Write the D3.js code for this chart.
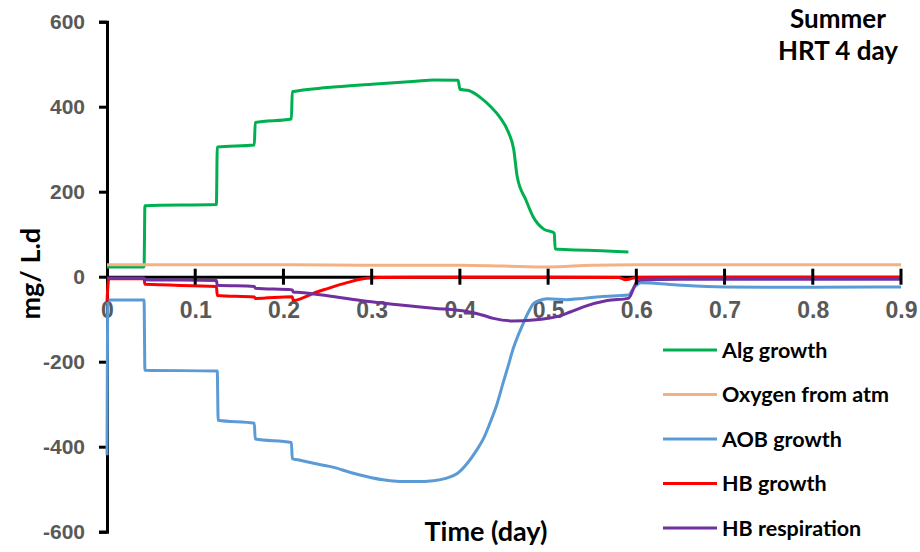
<!DOCTYPE html>
<html>
<head>
<meta charset="utf-8">
<script src="https://cdn.jsdelivr.net/npm/d3@7"></script>
<style>
  body { margin: 0; background: #fff; }
  svg { font-family: Lato, "Open Sans", sans-serif; }
</style>
</head>
<body>
<svg id="chart" width="920" height="552"></svg>
<script>
// series: [time (day), mg/L.d]
const algGrowth = [[0,23],[0.042,23],[0.043,167],[0.124,170],[0.125,305],[0.167,310],[0.168,363],[0.209,371],[0.21,435],
  [0.25,445],[0.3,453],[0.35,460],[0.37,463],[0.398,462],[0.4,441],[0.41,438],[0.423,422],[0.435,400],[0.445,376],
  [0.455,340],[0.461,300],[0.465,235],[0.475,180],[0.483,141],[0.495,112],[0.507,103],[0.508,65],[0.53,63],[0.56,61],[0.591,58]];
const oxygenAtm = [[0,28],[0.1,28],[0.2,28],[0.3,27],[0.4,27],[0.45,25],[0.5,23],[0.55,27],[0.6,28],[0.7,28],[0.9,28]];
const aobGrowth = [[0,-420],[0.001,-55],[0.042,-55],[0.043,-220],[0.125,-222],[0.126,-338],[0.167,-345],[0.168,-382],
  [0.209,-390],[0.21,-428],[0.219,-432],[0.241,-442],[0.256,-448],[0.275,-460],[0.294,-470],[0.313,-478],[0.332,-482],
  [0.35,-482],[0.37,-480],[0.385,-474],[0.397,-463],[0.408,-440],[0.419,-408],[0.427,-380],[0.434,-345],[0.442,-300],
  [0.449,-250],[0.455,-208],[0.46,-172],[0.466,-138],[0.472,-109],[0.478,-82],[0.483,-64],[0.49,-56],[0.499,-52],
  [0.521,-54],[0.54,-51],[0.559,-47],[0.591,-43],[0.598,-24],[0.605,-14],[0.65,-20],[0.7,-24],[0.8,-25],[0.9,-24]];
const hbGrowth = [[0,-60],[0.002,-5],[0.042,-5],[0.043,-18],[0.124,-23],[0.125,-44],[0.167,-48],[0.168,-51],[0.21,-47],
  [0.211,-56],[0.222,-50],[0.234,-39],[0.25,-28],[0.272,-14],[0.29,-5],[0.31,-2],[0.35,-1],[0.4,-1],[0.5,-1],[0.58,-2],
  [0.588,-7],[0.595,-4],[0.6,-2],[0.7,-1],[0.9,-1]];
const hbRespiration = [[0,-3],[0.042,-3],[0.043,-7],[0.124,-9],[0.125,-20],[0.167,-23],[0.168,-27],[0.21,-31],[0.211,-36],
  [0.219,-37],[0.25,-45],[0.294,-58],[0.33,-66],[0.37,-74],[0.408,-82],[0.425,-90],[0.438,-98],[0.46,-104],[0.483,-102],
  [0.5,-98],[0.51,-94],[0.525,-83],[0.54,-71],[0.567,-56],[0.591,-51],[0.6,-14],[0.605,-8],[0.65,-6],[0.9,-6]];

const seriesNames = ['Alg growth', 'Oxygen from atm', 'AOB growth', 'HB growth', 'HB respiration'];
const seriesData = [algGrowth, oxygenAtm, aobGrowth, hbGrowth, hbRespiration];
const seriesColors = ['#00B050', '#F4B183', '#5B9BD5', '#FF0000', '#7030A0'];

const xTicks = [0, 0.1, 0.2, 0.3, 0.4, 0.5, 0.6, 0.7, 0.8, 0.9];
const yTicks = [-600, -400, -200, 0, 200, 400, 600];

const svg = d3.select('#chart');
const x = d3.scaleLinear().domain([0, 0.9]).range([107, 901]);
const y = d3.scaleLinear().domain([-600, 600]).range([531.7, 21.7]);

// y axis
const yAxis = svg.append('g')
  .attr('transform', `translate(${x(0)},0)`)
  .call(d3.axisLeft(y).tickValues(yTicks).tickSize(8).tickPadding(14).tickFormat(d3.format('d')));
yAxis.select('.domain').attr('stroke', '#000').attr('stroke-width', 3);
yAxis.selectAll('.tick line').attr('stroke', '#000').attr('stroke-width', 3);
yAxis.selectAll('.tick text').attr('fill', '#595959').attr('font-size', 21).attr('font-weight', 'bold')
  .text(d => d < 0 ? '-' + Math.abs(d) : d);

// x axis line at y=0
const xAxis = svg.append('g').attr('transform', `translate(0,${y(0)})`)
  .call(d3.axisBottom(x).tickValues(xTicks).tickSize(0).tickPadding(25).tickFormat(d => d === 0 ? '0' : d3.format('.1f')(d)));
xAxis.select('.domain').attr('stroke', '#000').attr('stroke-width', 3);
xAxis.selectAll('.tick text').attr('fill', '#595959').attr('font-size', 23).attr('font-weight', 'bold');

// series
const line = d3.line().x(d => x(d[0])).y(d => y(d[1])).curve(d3.curveMonotoneX);
svg.append('g').selectAll('path')
  .data(seriesData)
  .join('path')
  .attr('d', line)
  .attr('fill', 'none')
  .attr('stroke', (d, i) => seriesColors[i])
  .attr('stroke-width', 3)
  .attr('stroke-linejoin', 'round');

// x tick marks cross the axis, drawn over the series
svg.append('g').selectAll('line')
  .data(xTicks.slice(1))
  .join('line')
  .attr('x1', d => x(d)).attr('x2', d => x(d))
  .attr('y1', y(0) - 8).attr('y2', y(0) + 8)
  .attr('stroke', '#000').attr('stroke-width', 3);

// axis titles
svg.append('text')
  .attr('transform', `translate(40,${y(0) - 3}) rotate(-90)`)
  .attr('text-anchor', 'middle')
  .attr('font-size', 27).attr('font-weight', 'bold').attr('fill', '#000')
  .text('mg/ L.d');
svg.append('text')
  .attr('x', 486).attr('y', 541)
  .attr('text-anchor', 'middle')
  .attr('font-size', 27).attr('font-weight', 'bold').attr('fill', '#000')
  .text('Time (day)');

// title top right
svg.append('text')
  .attr('x', 838).attr('y', 28)
  .attr('text-anchor', 'middle')
  .attr('font-size', 26).attr('font-weight', 'bold').attr('fill', '#000')
  .text('Summer');
svg.append('text')
  .attr('x', 838).attr('y', 60)
  .attr('text-anchor', 'middle')
  .attr('font-size', 26).attr('font-weight', 'bold').attr('fill', '#000')
  .text('HRT 4 day');

// legend
const legend = svg.append('g').selectAll('g')
  .data(seriesNames)
  .join('g')
  .attr('transform', (d, i) => `translate(663,${350 + i * 44.5})`);
legend.append('line')
  .attr('x1', 0).attr('x2', 54)
  .attr('stroke', (d, i) => seriesColors[i])
  .attr('stroke-width', 3);
legend.append('text')
  .attr('x', 59).attr('dy', '0.35em')
  .attr('font-size', 21.5).attr('font-weight', 'bold').attr('fill', '#000')
  .text(d => d);
</script>
</body>
</html>
